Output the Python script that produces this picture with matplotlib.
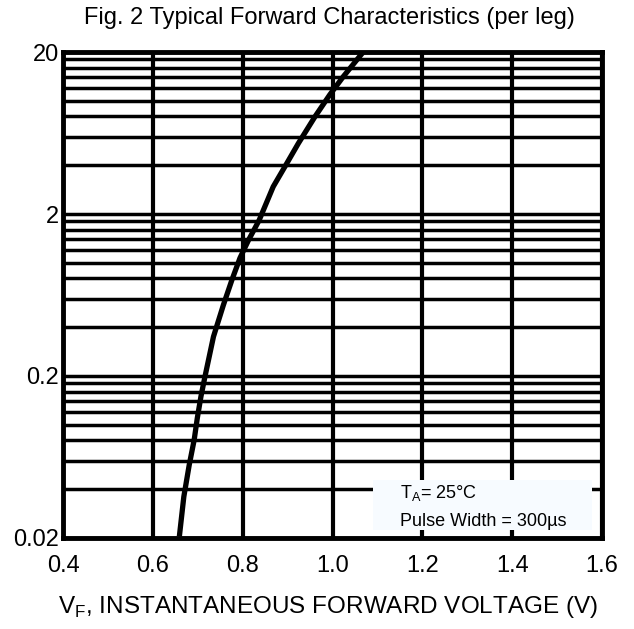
import matplotlib
matplotlib.use("Agg")
import matplotlib.pyplot as plt
from matplotlib.patches import Rectangle

plt.rcParams['font.family'] = ['Liberation Sans', 'DejaVu Sans']

# Data
vf = [0.659, 0.669, 0.681, 0.692, 0.699, 0.707, 0.716, 0.735, 0.757, 0.776,
      0.794, 0.813, 0.827, 0.837, 0.868, 0.894, 0.924, 0.961, 0.994, 1.024, 1.069]
i_f = [0.0204, 0.036, 0.0565, 0.0806, 0.110, 0.149, 0.198, 0.350, 0.548, 0.783,
       1.07, 1.38, 1.63, 1.84, 2.95, 3.92, 5.46, 7.98, 10.9, 14.1, 20.1]

x_ticks = [0.4, 0.6, 0.8, 1.0, 1.2, 1.4, 1.6]
x_tick_labels = ["0.4", "0.6", "0.8", "1.0", "1.2", "1.4", "1.6"]
y_ticks = [0.02, 0.2, 2, 20]
y_tick_labels = ["0.02", "0.2", "2", "20"]
y_minor = [d * k for d in (0.02, 0.2, 2) for k in range(2, 10)]

fig = plt.figure(figsize=(6.34, 6.29), dpi=100)
ax = fig.add_axes([0.0994, 0.1447, 0.8501, 0.7726])

ax.set_yscale('log')
ax.set_xlim(0.4, 1.6)
ax.set_ylim(0.02, 20)
ax.set_xticks(x_ticks)
ax.set_xticklabels(x_tick_labels)
ax.set_yticks(y_ticks)
ax.set_yticklabels(y_tick_labels)
ax.set_yticks(y_minor, minor=True)
ax.yaxis.set_minor_formatter(plt.NullFormatter())

ax.set_axisbelow(True)
ax.grid(True, which='major', axis='x', color='black', linewidth=3)
ax.grid(True, which='both', axis='y', color='black', linewidth=2.5)

ax.tick_params(axis='both', which='both', length=0, labelsize=17)
ax.tick_params(axis='x', pad=12)
ax.tick_params(axis='y', pad=3)

for s in ax.spines.values():
    s.set_linewidth(3.5)
    s.set_color('black')

ax.plot(vf, i_f, color='black', linewidth=3.8, zorder=3, solid_capstyle='butt')

ax.add_patch(Rectangle((0.575, 0.016), 0.406, 0.103, transform=ax.transAxes,
                       facecolor='#f7fbff', edgecolor='none', zorder=2))
ax.text(0.625, 0.093, r"T$_\mathregular{A}$= 25°C", transform=ax.transAxes,
        fontsize=13, va='center', ha='left', zorder=4)
ax.text(0.625, 0.033, "Pulse Width = 300µs", transform=ax.transAxes,
        fontsize=13, va='center', ha='left', zorder=4)

fig.text(0.52, 0.971, "Fig. 2 Typical Forward Characteristics (per leg)",
         ha='center', va='center', fontsize=17)
fig.text(0.518, 0.035, r"V$_\mathregular{F}$, INSTANTANEOUS FORWARD VOLTAGE (V)",
         ha='center', va='center', fontsize=17.5)

fig.savefig("out.png", dpi=100)
